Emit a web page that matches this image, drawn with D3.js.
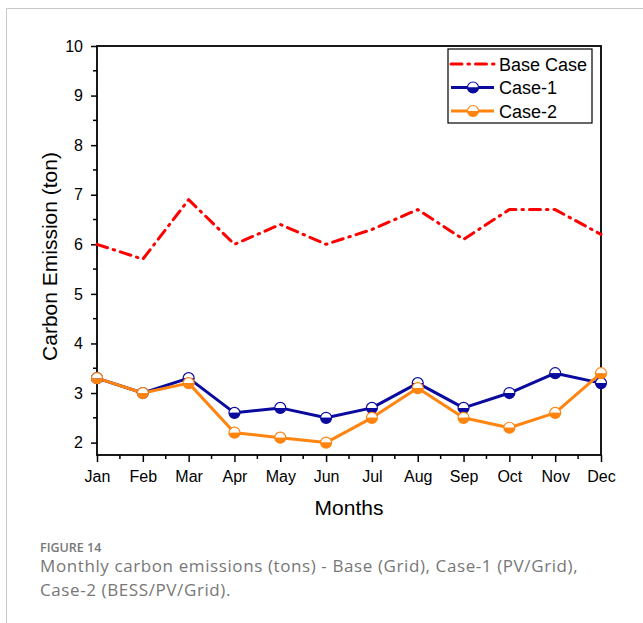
<!DOCTYPE html>
<html>
  <head>
    <meta charset="utf-8">
    <script src="https://d3js.org/d3.v7.min.js"></script>
    <style>
      body { margin: 0; background: #fff; }
      .axis-label { font-family: "Liberation Sans", Arial, sans-serif; font-size: 21px; fill: #000; }
      .legend text { font-family: "Liberation Sans", Arial, sans-serif; font-size: 18px; fill: #000; }
      .caption-head { font-family: "Open Sans", sans-serif; font-size: 12.5px; fill: #777; font-weight: 600; }
      .caption { font-family: "Open Sans", sans-serif; font-size: 17px; fill: #777; letter-spacing: 0.6px; }
    </style>
  </head>
  <body>
    <svg width="643" height="623"></svg>
    <script>
      const months = ['Jan','Feb','Mar','Apr','May','Jun','Jul','Aug','Sep','Oct','Nov','Dec'];
      const baseCase = [6.0, 5.7, 6.9, 6.0, 6.4, 6.0, 6.3, 6.7, 6.1, 6.7, 6.7, 6.2];
      const case1 = [3.3, 3.0, 3.3, 2.6, 2.7, 2.5, 2.7, 3.2, 2.7, 3.0, 3.4, 3.2];
      const case2 = [3.3, 3.0, 3.2, 2.2, 2.1, 2.0, 2.5, 3.1, 2.5, 2.3, 2.6, 3.4];
      const yTicks = [2, 3, 4, 5, 6, 7, 8, 9, 10];

      const svg = d3.select('svg');
      const margin = {left: 97, top: 46};
      const innerWidth = 504;
      const innerHeight = 409;

      // outer page border (light grey)
      svg.append('path')
        .attr('d', 'M6.5,623 V8.5 H643')
        .attr('fill', 'none')
        .attr('stroke', '#c8c8c8')
        .attr('stroke-width', 1);

      const g = svg.append('g')
        .attr('transform', `translate(${margin.left}, ${margin.top})`);

      const xScale = d3.scalePoint().domain(months).range([0, innerWidth]);
      const yScale = d3.scaleLinear().domain([1.75, 10]).range([innerHeight, 0]);

      // minor ticks
      const minorY = d3.range(2.5, 10, 1);
      g.selectAll('.minor-y').data(minorY).enter().append('line')
        .attr('x1', 0).attr('x2', -4)
        .attr('y1', d => yScale(d)).attr('y2', d => yScale(d))
        .attr('stroke', '#000').attr('stroke-width', 1.5);
      const step = xScale.step();
      g.selectAll('.minor-x').data(months.slice(0, -1)).enter().append('line')
        .attr('x1', d => xScale(d) + step / 2).attr('x2', d => xScale(d) + step / 2)
        .attr('y1', innerHeight).attr('y2', innerHeight + 4)
        .attr('stroke', '#000').attr('stroke-width', 1.5);

      const xAxis = d3.axisBottom(xScale).tickSize(7).tickSizeOuter(0).tickPadding(9);
      const yAxis = d3.axisLeft(yScale).tickValues(yTicks).tickSize(6).tickSizeOuter(0).tickPadding(8);

      const xAxisG = g.append('g').attr('transform', `translate(0, ${innerHeight})`).call(xAxis);
      const yAxisG = g.append('g').call(yAxis);
      [xAxisG, yAxisG].forEach(a => {
        a.attr('font-family', '"Liberation Sans", Arial, sans-serif').attr('font-size', 16);
        a.select('.domain').remove();
        a.selectAll('.tick line').attr('stroke', '#000').attr('stroke-width', 1.5);
        a.selectAll('.tick text').attr('fill', '#000');
      });

      // frame
      g.append('rect')
        .attr('x', 0).attr('y', 0)
        .attr('width', innerWidth).attr('height', innerHeight)
        .attr('fill', 'none').attr('stroke', '#000').attr('stroke-width', 1.8);

      const line = d3.line()
        .x((d, i) => xScale(months[i]))
        .y(d => yScale(d));

      const series = [
        {name: 'Base Case', values: baseCase, color: '#ff0000', dash: '11,6,1.5,6', marker: false},
        {name: 'Case-1', values: case1, color: '#0a0a9e', dash: null, marker: true},
        {name: 'Case-2', values: case2, color: '#ff8410', dash: null, marker: true}
      ];

      const plot = g.append('g');
      const r = 5.5;
      const halfTop = d3.arc()({innerRadius: 0, outerRadius: r, startAngle: -Math.PI / 2, endAngle: Math.PI / 2});
      const halfBottom = d3.arc()({innerRadius: 0, outerRadius: r, startAngle: Math.PI / 2, endAngle: 3 * Math.PI / 2});

      function drawMarker(sel, color) {
        sel.append('path').attr('d', halfTop).attr('fill', '#fff');
        sel.append('path').attr('d', halfBottom).attr('fill', color);
        sel.append('circle').attr('r', r).attr('fill', 'none').attr('stroke', color).attr('stroke-width', 1.2);
      }

      series.forEach(s => {
        plot.append('path')
          .datum(s.values)
          .attr('d', line)
          .attr('fill', 'none')
          .attr('stroke', s.color)
          .attr('stroke-width', 3)
          .attr('stroke-dasharray', s.dash)
          .attr('stroke-linecap', s.dash ? 'round' : 'butt')
          .attr('stroke-linejoin', 'round');
      });
      series.filter(s => s.marker).forEach(s => {
        plot.selectAll(null).data(s.values).enter().append('g')
          .attr('transform', (d, i) => `translate(${xScale(months[i])}, ${yScale(d)})`)
          .each(function() { drawMarker(d3.select(this), s.color); });
      });

      // axis labels
      g.append('text').attr('class', 'axis-label')
        .attr('x', innerWidth / 2).attr('y', innerHeight + 60)
        .attr('text-anchor', 'middle').text('Months');
      g.append('text').attr('class', 'axis-label')
        .attr('transform', 'rotate(-90)')
        .attr('x', -(innerHeight / 2 + 6)).attr('y', -40)
        .attr('text-anchor', 'middle').text('Carbon Emission (ton)');

      // legend
      const legend = svg.append('g').attr('class', 'legend').attr('transform', 'translate(448, 49)');
      legend.append('rect')
        .attr('x', 0).attr('y', 0).attr('width', 144).attr('height', 74)
        .attr('fill', '#fff').attr('stroke', '#000').attr('stroke-width', 1.2);
      series.forEach((s, i) => {
        const ly = 15 + i * 23.5;
        legend.append('line')
          .attr('x1', 3).attr('x2', 46).attr('y1', ly).attr('y2', ly)
          .attr('stroke', s.color).attr('stroke-width', 3)
          .attr('stroke-dasharray', s.dash)
          .attr('stroke-linecap', s.dash ? 'round' : 'butt');
        if (s.marker) {
          drawMarker(legend.append('g').attr('transform', `translate(25, ${ly})`), s.color);
        }
        legend.append('text').attr('x', 51).attr('y', ly + 6.5).text(s.name);
      });

      // caption
      svg.append('text').attr('class', 'caption-head').attr('x', 40).attr('y', 552).text('FIGURE 14');
      svg.append('text').attr('class', 'caption').attr('x', 40).attr('y', 572)
        .text('Monthly carbon emissions (tons) - Base (Grid), Case-1 (PV/Grid),');
      svg.append('text').attr('class', 'caption').attr('x', 40).attr('y', 596)
        .text('Case-2 (BESS/PV/Grid).');
    </script>
  </body>
</html>
